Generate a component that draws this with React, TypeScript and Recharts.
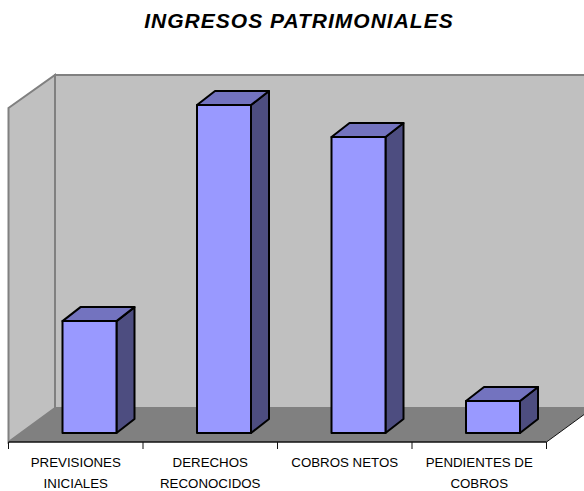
import { BarChart, Bar, XAxis, YAxis, Customized } from 'recharts'

const CATEGORIES = ['PREVISIONES INICIALES', 'DERECHOS RECONOCIDOS', 'COBROS NETOS', 'PENDIENTES DE COBROS']
const TICK_LINES = [['PREVISIONES', 'INICIALES'], ['DERECHOS', 'RECONOCIDOS'], ['COBROS NETOS'], ['PENDIENTES DE', 'COBROS']]
const VALUES = [33.5, 98.2, 88.6, 9.6]

const data = CATEGORIES.map((name, i) => ({ name, value: VALUES[i], lines: TICK_LINES[i] }))

const WIDTH = 584
const HEIGHT = 491
const MARGIN = { top: 108, right: 37.5, bottom: 0, left: 8.5 }
const BAND = (WIDTH - MARGIN.left - MARGIN.right) / CATEGORIES.length
const FONT = 'Liberation Sans, Arial, sans-serif'

// depth of the fake 3d box
const DEPTH_X = 18
const DEPTH_Y = 14
// bars stand in the middle of the floor, not on the front edge
const SHIFT_X = 14
const SHIFT_Y = -9

function Box3D(props: any) {
  const { x, y, width, height } = props
  const l = x + SHIFT_X
  const r = l + width
  const t = y + SHIFT_Y
  const b = t + height
  const common = { stroke: '#000', strokeWidth: 2, strokeLinejoin: 'round' as const }
  return (
    <g>
      <polygon points={`${r},${t} ${r + DEPTH_X},${t - DEPTH_Y} ${r + DEPTH_X},${b - DEPTH_Y} ${r},${b}`} fill="#4D4D80" {...common} />
      <polygon points={`${l},${t} ${l + DEPTH_X},${t - DEPTH_Y} ${r + DEPTH_X},${t - DEPTH_Y} ${r},${t}`} fill="#7373BF" {...common} />
      <rect x={l} y={t} width={width} height={height} fill="#9999FF" {...common} />
    </g>
  )
}

function Walls() {
  return (
    <g>
      <text x={299} y={28} textAnchor="middle" fontFamily={FONT} fontSize={21} fontWeight="bold" fontStyle="italic" letterSpacing={1} fill="#000">
        INGRESOS PATRIMONIALES
      </text>
      <polygon points="55,75 600,75 600,408 55,408" fill="#C0C0C0" stroke="#808080" strokeWidth={2} />
      <polygon points="8.5,108 55,75 55,408 8.5,442" fill="#C0C0C0" stroke="#808080" strokeWidth={2} />
      <polygon points="8.5,442 55,408 593,408 546.5,442" fill="#808080" />
      <line x1={546.5} y1={442} x2={593} y2={408} stroke="#111" strokeWidth={1} />
    </g>
  )
}

function CategoryTick(props: any) {
  const { x, y, index, payload } = props
  const lines = TICK_LINES[index] ?? [payload.value]
  const left = x - BAND / 2
  const right = x + BAND / 2
  return (
    <g>
      <line x1={left} y1={y} x2={left} y2={y + 7} stroke="#111" />
      {index === CATEGORIES.length - 1 && <line x1={right} y1={y} x2={right} y2={y + 7} stroke="#111" />}
      {lines.map((line: string, i: number) => (
        <text key={line} x={x} y={y + 25 + i * 21} textAnchor="middle" fontFamily={FONT} fontSize={13.3} fill="#000">
          {line}
        </text>
      ))}
    </g>
  )
}

export default function App() {
  return (
    <div style={{ position: 'absolute', left: 0, top: 0, width: WIDTH, height: HEIGHT, background: '#fff', overflow: 'hidden' }}>
      <BarChart width={WIDTH} height={HEIGHT} data={data} margin={MARGIN} barSize={54}>
        <Customized component={Walls} />
        <XAxis dataKey="name" interval={0} height={49} tickSize={0} tickMargin={0} tickLine={false} axisLine={{ stroke: '#111', strokeWidth: 1.5 }} tick={<CategoryTick />} />
        <YAxis hide domain={[0, 100]} />
        <Bar dataKey="value" shape={<Box3D />} isAnimationActive={false} />
      </BarChart>
    </div>
  )
}
